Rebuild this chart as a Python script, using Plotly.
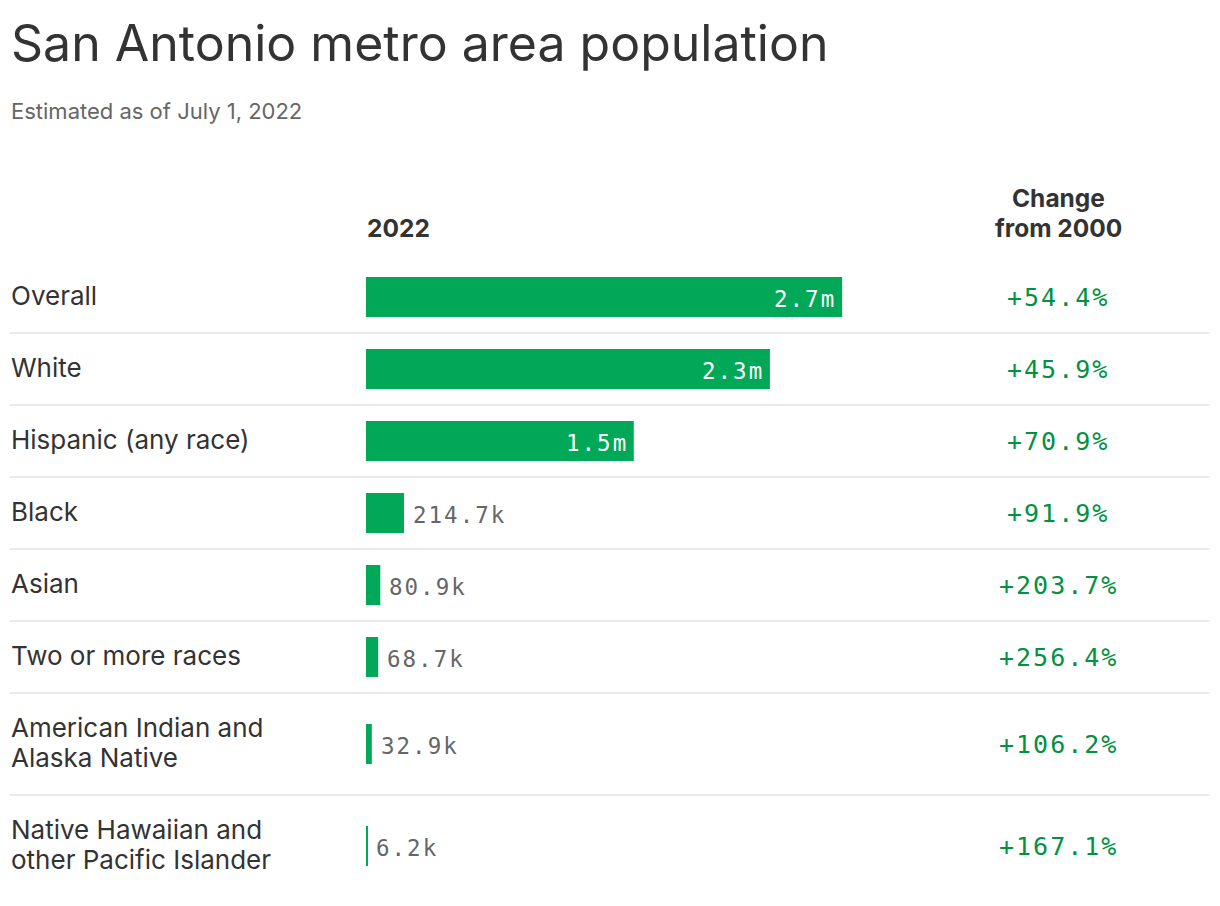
import plotly.graph_objects as go

# ---- data ----
categories = [
    "Overall",
    "White",
    "Hispanic (any race)",
    "Black",
    "Asian",
    "Two or more races",
    "American Indian and<br>Alaska Native",
    "Native Hawaiian and<br>other Pacific Islander",
]
population_2022 = [2_690_000, 2_282_000, 1_513_000, 214_700, 80_900, 68_700, 32_900, 6_200]
change_from_2000 = [54.4, 45.9, 70.9, 91.9, 203.7, 256.4, 106.2, 167.1]

title = "San Antonio metro area population"
subtitle = "Estimated as of July 1, 2022"
col1_header = "2022"
col2_header = "Change<br>from 2000"

# ---- layout constants (page pixel coordinates) ----
PAGE_W, PAGE_H = 1220, 906
OFF = 8                      # page body margin
FW, FH = PAGE_W - 2 * OFF, PAGE_H - 2 * OFF
SANS = "Inter"
MONO = "DejaVu Sans Mono"
DARK = "#333333"
GRAY = "#666666"
BAR_GREEN = "#00A857"
TEXT_GREEN = "#00923F"
SEP = "#E3E3E3"

LEFT = 10
ROW_TOP = 261
BAR_X0 = 366
PX_PER_MILLION = 177
X_MAX = 3_000_000
CHANGE_X = 1058
LINE_H = 30


def xp(px):
    return (px - OFF) / FW


def fmt_pop(v):
    if v >= 1_000_000:
        return f"{v / 1e6:.1f}m"
    return f"{v / 1e3:.1f}k"


def spaced(s, sp):
    return f'<span style="letter-spacing:{sp}px">{s}</span>'


annotations = []


def add_lines(text, x, yc, anchor, size, color, family=SANS):
    lines = text.split("<br>")
    n = len(lines)
    for i, ln in enumerate(lines):
        annotations.append(dict(
            x=x, y=yc + (i - (n - 1) / 2) * LINE_H, xref="paper", yref="y",
            text=ln, xanchor=anchor, yanchor="middle", showarrow=False,
            font=dict(family=family, size=size, color=color)))


# row geometry derived from label line counts
centers, bounds = [], []
y = ROW_TOP
for cat in categories:
    n_lines = cat.count("<br>") + 1
    h = 42 + LINE_H * n_lines
    centers.append(y + h / 2)
    y += h
    bounds.append(y)

inside = [v >= 1_000_000 for v in population_2022]

fig = go.Figure()
fig.add_trace(
    go.Bar(
        orientation="h",
        x=population_2022,
        y=centers,
        width=40,
        marker=dict(color=BAR_GREEN, line=dict(width=0)),
        cliponaxis=False,
        hoverinfo="skip",
    )
)

# title and subtitle
annotations.append(dict(x=xp(LEFT - 1), y=43, xref="paper", yref="y", text=title,
                        xanchor="left", yanchor="middle", showarrow=False,
                        font=dict(family=SANS, size=50, color=DARK)))
annotations.append(dict(x=xp(LEFT - 1), y=111, xref="paper", yref="y", text=subtitle,
                        xanchor="left", yanchor="middle", showarrow=False,
                        font=dict(family=SANS, size=22, color=GRAY)))
# headers
add_lines(f"<b>{col1_header}</b>", xp(BAR_X0 - 1), 228, "left", 24.5, DARK)
add_lines("<br>".join(f"<b>{t}</b>" for t in col2_header.split("<br>")),
          xp(CHANGE_X), 213, "center", 24.5, DARK)

# row labels, value labels and change values
for cat, c, v, ins, p in zip(categories, centers, population_2022, inside, change_from_2000):
    add_lines(cat, xp(LEFT - 1), c - 2, "left", 26, DARK)
    annotations.append(dict(
        x=v, y=c + 2, xref="x", yref="y", text=spaced(fmt_pop(v), 2),
        xanchor="right" if ins else "left", xshift=-4 if ins else 7,
        yanchor="middle", showarrow=False,
        font=dict(family=MONO, size=22.5, color="#FFFFFF" if ins else GRAY)))
    annotations.append(dict(
        x=xp(CHANGE_X), y=c, xref="paper", yref="y",
        text=spaced(f"+{p:.1f}%", 2),
        xanchor="center", yanchor="middle", showarrow=False,
        font=dict(family=MONO, size=25, color=TEXT_GREEN)))

shapes = []
for b in bounds[:-1]:
    shapes.append(dict(type="line", xref="paper", yref="y", x0=xp(10), x1=xp(1210),
                       y0=b, y1=b, line=dict(color=SEP, width=1.6), layer="below"))

fig.update_layout(
    width=FW,
    height=FH,
    margin=dict(l=0, r=0, t=0, b=0),
    paper_bgcolor="white",
    plot_bgcolor="white",
    showlegend=False,
    xaxis=dict(domain=[xp(BAR_X0), xp(BAR_X0 + PX_PER_MILLION * X_MAX / 1e6)],
               range=[0, X_MAX], visible=False, fixedrange=True),
    yaxis=dict(range=[OFF + FH, OFF], domain=[0, 1], visible=False, fixedrange=True),
    annotations=annotations,
    shapes=shapes,
)

fig.write_html("out.html", config={"displayModeBar": False})
